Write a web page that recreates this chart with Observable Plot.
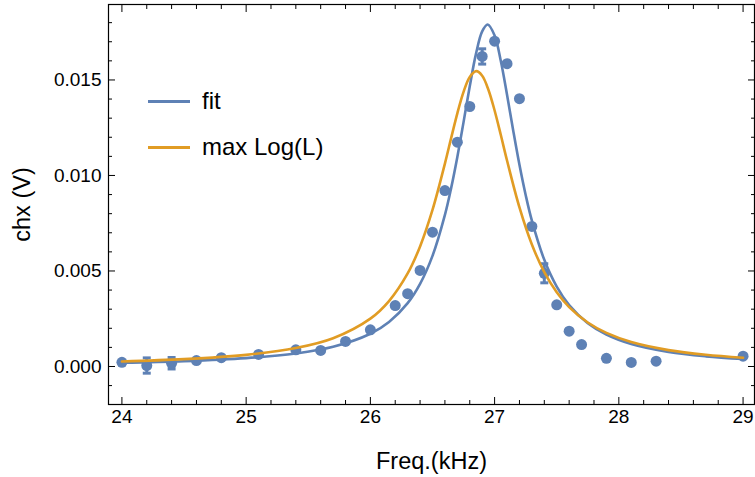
<!DOCTYPE html>
<html>
<head>
<meta charset="utf-8">
<script src="https://cdn.jsdelivr.net/npm/d3@7"></script>
<script src="https://cdn.jsdelivr.net/npm/@observablehq/plot@0.6"></script>
<style>
  html, body { margin: 0; padding: 0; background: #fff; }
  #wrap { position: relative; width: 755px; height: 477px; font-family: "Liberation Sans", Arial, sans-serif; }
  #legend { position: absolute; left: 148px; top: 78px; font-size: 24px; color: #000; }
  .row { display: flex; align-items: center; height: 46px; }
  .sw { width: 42px; height: 3px; margin-right: 12px; }
</style>
</head>
<body>
<div id="wrap"></div>
<script>
// measured data points
const freq = [24.0,24.2,24.4,24.6,24.8,25.1,25.4,25.6,25.8,26.0,26.2,26.3,26.4,26.5,26.6,26.7,26.8,26.9,27.0,27.1,27.2,27.3,27.4,27.5,27.6,27.7,27.9,28.1,28.3,29.0];
const chx = [0.00022,0.00005,0.00017,0.00031,0.00046,0.00063,0.00087,0.00084,0.00131,0.00192,0.00319,0.00381,0.00503,0.00703,0.00921,0.01174,0.01361,0.01623,0.01703,0.01585,0.01402,0.00733,0.00488,0.00323,0.00185,0.00115,0.00043,0.00021,0.00028,0.00054];
// error bars
const errFreq = [24.2, 24.4, 26.9, 27.4];
const errVal = [0.00005, 0.00017, 0.01623, 0.00488];
const errSize = [0.0004, 0.0003, 0.0004, 0.0005];
// "fit" curve
const fitFreq = [24.0,24.5,25.0,25.4,25.7,26.0,26.15,26.3,26.4,26.5,26.6,26.65,26.7,26.75,26.8,26.85,26.9,26.944,27.0,27.05,27.1,27.15,27.2,27.25,27.3,27.4,27.5,27.6,27.75,27.9,28.1,28.4,28.7,29.0];
const fitVal = [0.000193,0.000278,0.000436,0.000681,0.001028,0.001712,0.002328,0.003315,0.004324,0.005789,0.007935,0.009337,0.010970,0.012792,0.014672,0.016366,0.017540,0.017900,0.017324,0.015994,0.014227,0.012343,0.010559,0.008979,0.007634,0.005583,0.004182,0.003216,0.002268,0.001673,0.001179,0.000762,0.000531,0.000390];
// "max Log(L)" curve
const mlFreq = [24.0,24.5,25.0,25.4,25.7,26.0,26.15,26.3,26.4,26.5,26.6,26.65,26.7,26.75,26.8,26.853,26.9,26.95,27.0,27.05,27.1,27.2,27.3,27.4,27.5,27.6,27.75,27.9,28.1,28.4,28.7,29.0];
const mlVal = [0.000263,0.000383,0.000608,0.000965,0.001479,0.002504,0.003424,0.004869,0.006286,0.008196,0.010623,0.011956,0.013253,0.014375,0.015157,0.015460,0.015221,0.014490,0.013400,0.012116,0.010782,0.008328,0.006386,0.004942,0.003887,0.003111,0.002300,0.001757,0.001282,0.000858,0.000612,0.000458];
// ticks
const xMajor = [24,25,26,27,28,29];
const xMinor = [24.2,24.4,24.6,24.8,25.2,25.4,25.6,25.8,26.2,26.4,26.6,26.8,27.2,27.4,27.6,27.8,28.2,28.4,28.6,28.8];
const yMajor = [0, 0.005, 0.010, 0.015];
const yMinor = [-0.001,0.001,0.002,0.003,0.004,0.006,0.007,0.008,0.009,0.011,0.012,0.013,0.014,0.016,0.017,0.018];
const seriesNames = ["fit", "max Log(L)"];
const colors = ["#5E81B5", "#E19C24"];

const pts = freq.map((f, i) => ({f, v: chx[i]}));
const errs = errFreq.map((f, i) => ({f, lo: errVal[i] - errSize[i], hi: errVal[i] + errSize[i]}));
const fitPts = fitFreq.map((f, i) => ({f, v: fitVal[i]}));
const mlPts = mlFreq.map((f, i) => ({f, v: mlVal[i]}));

const capSymbol = {
  draw(ctx, size) {
    const w = Math.sqrt(size) * 0.9;
    ctx.moveTo(-w / 2, 0);
    ctx.lineTo(w / 2, 0);
  }
};

const fs = 19;
const chart = Plot.plot({
  width: 755,
  height: 477,
  marginLeft: 108,
  marginRight: 1,
  marginTop: 4,
  marginBottom: 73,
  style: {fontFamily: '"Liberation Sans", Arial, sans-serif', color: "#000", background: "#fff"},
  x: {domain: [23.892, 29.092]},
  y: {domain: [-0.00199, 0.01895]},
  marks: [
    Plot.ruleX(errs, {x: "f", y1: "lo", y2: "hi", stroke: colors[0], strokeWidth: 3}),
    Plot.dot(errs, {x: "f", y: "lo", symbol: capSymbol, r: 5, stroke: colors[0], strokeWidth: 3}),
    Plot.dot(errs, {x: "f", y: "hi", symbol: capSymbol, r: 5, stroke: colors[0], strokeWidth: 3}),
    Plot.dot(pts, {x: "f", y: "v", r: 5.5, fill: colors[0], stroke: "none"}),
    Plot.line(fitPts, {x: "f", y: "v", stroke: colors[0], strokeWidth: 2.6, curve: "catmull-rom"}),
    Plot.line(mlPts, {x: "f", y: "v", stroke: colors[1], strokeWidth: 2.6, curve: "catmull-rom"}),
    // bottom axis
    Plot.axisX({anchor: "bottom", ticks: xMajor, tickSize: -7, tickPadding: 12, tickFormat: d => String(d), fontSize: fs, label: null, stroke: "#000", fill: "#000"}),
    Plot.axisX({anchor: "bottom", ticks: xMinor, tickSize: -4, fill: "none", label: null, stroke: "#000"}),
    // top axis
    Plot.axisX({anchor: "top", ticks: xMajor, tickSize: -7, fill: "none", label: null, stroke: "#000"}),
    Plot.axisX({anchor: "top", ticks: xMinor, tickSize: -4, fill: "none", label: null, stroke: "#000"}),
    // left axis
    Plot.axisY({anchor: "left", ticks: yMajor, tickSize: -7, tickPadding: 14, tickFormat: d3.format(".3f"), fontSize: fs, label: null, stroke: "#000", fill: "#000"}),
    Plot.axisY({anchor: "left", ticks: yMinor, tickSize: -4, fill: "none", label: null, stroke: "#000"}),
    // right axis
    Plot.axisY({anchor: "right", ticks: yMajor, tickSize: -7, fill: "none", label: null, stroke: "#000"}),
    Plot.axisY({anchor: "right", ticks: yMinor, tickSize: -4, fill: "none", label: null, stroke: "#000"}),
    Plot.frame({stroke: "#000", strokeWidth: 1.2}),
    Plot.text(["Freq.(kHz)"], {frameAnchor: "bottom", dy: 57, textAnchor: "middle", lineAnchor: "middle", fontSize: 23.5, fill: "#000"}),
    Plot.text(["chx (V)"], {frameAnchor: "left", dx: -86, rotate: -90, textAnchor: "middle", lineAnchor: "middle", fontSize: 23.5, fill: "#000"})
  ]
});

const wrap = document.getElementById("wrap");
wrap.appendChild(chart);
const legend = document.createElement("div");
legend.id = "legend";
seriesNames.forEach((name, i) => {
  const row = document.createElement("div");
  row.className = "row";
  const sw = document.createElement("div");
  sw.className = "sw";
  sw.style.background = colors[i];
  const t = document.createElement("span");
  t.textContent = name;
  row.appendChild(sw);
  row.appendChild(t);
  legend.appendChild(row);
});
wrap.appendChild(legend);
</script>
</body>
</html>
